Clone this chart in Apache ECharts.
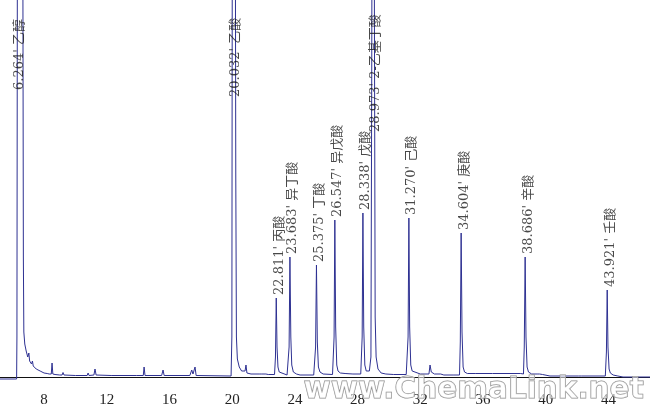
<!DOCTYPE html>
<html>
<head>
<meta charset="utf-8">
<script src="https://cdn.jsdelivr.net/npm/echarts@6/dist/echarts.min.js"></script>
<style>html,body{margin:0;padding:0;background:#fff;}#c{width:650px;height:406px;}</style>
</head>
<body>
<div id="c"></div>
<script>
// Retention time ticks (min)
const xTicks = [8, 12, 16, 20, 24, 28, 32, 36, 40, 44];

// Peak retention times and labels
const peakTimes = [6.264, 20.032, 22.811, 23.683, 25.375, 26.547, 28.338, 28.973, 31.270, 34.604, 38.686, 43.921];
const peakNames = ["6.264' 乙醇", "20.032' 乙酸", "22.811' 丙酸", "23.683' 异丁酸", "25.375' 丁酸", "26.547' 异戊酸",
                   "28.338' 戊酸", "28.973' 2-乙基丁酸", "31.270' 己酸", "34.604' 庚酸", "38.686' 辛酸", "43.921' 壬酸"];
// Height at which each label starts (peak apex, or for off-scale peaks where the label sits)
const labelHeights = [284, 277, 79, 120, 112, 157, 164, 242, 159, 144, 120, 87];

// Detector trace [time, response]
const trace = [
 [5.19,-2],[6.25,-2],[6.27,40],[6.29,300],[6.33,900],[6.45,1200],[6.58,900],[6.65,400],[6.68,120],[6.71,45],
 [6.77,33],[6.86,26],[6.96,20],[7.03,24],[7.08,16],[7.2,13],[7.26,16],[7.31,11],[7.5,8],[7.75,6],[8.0,4],[8.2,3.5],
 [8.27,5],[8.33,3],[8.46,3],[8.51,14],[8.56,3],[8.7,2.5],[9.0,2],[9.15,2],[9.21,4.5],[9.27,2],[10.0,1.5],
 [10.75,1.5],[10.81,4],[10.87,1.5],[11.18,2],[11.25,8],[11.32,2],[12.28,1.5],[12.34,3],[12.4,1.5],[13.88,1.5],[13.93,2.5],[13.98,1.5],
 [14.33,1.5],[14.38,10],[14.44,1.5],[15.5,1.5],[15.59,7],[15.66,1.5],[17.3,1.5],[17.42,7],[17.5,3],[17.63,10],[17.7,1.5],
 [19.93,1],[19.98,40],[20.01,500],[20.06,1000],[20.16,800],[20.23,200],[20.27,40],[20.33,18],[20.45,10],[20.6,6],[20.72,5],
 [20.82,6],[20.88,12],[20.94,4],[21.2,3],[21.72,3],[21.78,4.5],[21.85,3],[22.15,3],[22.22,4.5],[22.3,2.5],[22.7,2.5],
 [22.76,20],[22.811,79],[22.86,30],[22.92,10],[23.0,5],[23.1,3],[23.5,2],
 [23.58,2],[23.63,30],[23.683,120],[23.74,40],[23.8,12],[23.9,5],[24.1,3],[24.33,2],[25.2,2],
 [25.27,2],[25.32,30],[25.375,112],[25.43,35],[25.5,10],[25.6,5],[25.8,3],[26.4,2.5],
 [26.45,2.5],[26.5,40],[26.547,157],[26.6,50],[26.67,12],[26.75,6],[26.9,4],[27.2,3.5],[27.7,3],[28.2,3],
 [28.24,3],[28.29,40],[28.338,164],[28.39,50],[28.46,12],[28.55,6],[28.62,4],[28.75,6],
 [28.85,20],[28.9,300],[28.973,900],[29.05,500],[29.12,60],[29.18,20],[29.3,8],[29.5,4],[29.8,3],[30.3,2.5],[31.1,2.5],
 [31.17,2.5],[31.22,40],[31.27,159],[31.32,50],[31.39,12],[31.48,6],[31.6,4],[32.0,3],[32.55,3],[32.62,12],[32.7,5],
 [32.81,6],[32.9,3],[33.3,3],[33.5,2],[34.09,2],[34.5,2],
 [34.55,35],[34.604,144],[34.66,45],[34.73,10],[34.82,5],[35.0,3.5],[35.5,3.5],[36.6,3.5],[36.64,5],[36.7,3.5],[38.4,3.5],[38.58,3],
 [38.63,30],[38.686,120],[38.74,40],[38.81,10],[38.9,5],[39.1,3],[39.45,3],[39.51,5],[39.6,3],[39.8,2.5],[40.27,1],
 [42.1,1],[42.19,3],[42.27,1],[43.8,1],
 [43.87,25],[43.921,87],[43.97,30],[44.04,8],[44.12,4],[44.3,2],[44.6,1],[44.93,0],[46.7,0]
];

const labelData = peakTimes.map((t, i) => ({ value: [t, labelHeights[i]], name: peakNames[i] }));

const chart = echarts.init(document.getElementById('c'), null, { renderer: 'canvas' });
chart.setOption({
  animation: false,
  backgroundColor: '#ffffff',
  grid: { left: 0, right: 0, top: 0, bottom: 24, outerBoundsMode: 'none', containLabel: false },
  xAxis: {
    type: 'value', min: 5.19, max: 46.65,
    axisLine: { show: true, onZero: true, lineStyle: { color: '#111', width: 1 } },
    axisTick: { show: false },
    splitLine: { show: false },
    axisLabel: {
      customValues: xTicks,
      showMinLabel: true, showMaxLabel: true,
      margin: 11, color: '#222', fontSize: 15, fontFamily: "'Liberation Serif', serif"
    }
  },
  yAxis: { type: 'value', min: -5, max: 377, show: false, splitLine: { show: false } },
  series: [
    {
      type: 'line', data: trace, showSymbol: false, symbol: 'none', clip: true,
      lineStyle: { color: '#2e3192', width: 1 }, z: 2
    },
    {
      type: 'scatter', data: labelData, symbolSize: 0, z: 3, clip: false,
      label: {
        show: true, position: 'top', distance: 3, rotate: 90, offset: [0, 3],
        align: 'left', verticalAlign: 'middle',
        fontSize: 13, color: '#1a1a1a', fontFamily: "'DejaVu Serif', 'Noto Sans CJK SC', serif",
        formatter: p => p.name
      }
    }
  ],
  graphic: [{
    type: 'text', left: 303, top: 375, z: 10,
    style: {
      text: 'www.ChemaLink.net', font: 'bold 29.5px "DejaVu Sans", sans-serif',
      fill: 'rgba(255,255,255,0.55)', stroke: '#8a8a8a', lineWidth: 1
    }
  }]
});
</script>
</body>
</html>
